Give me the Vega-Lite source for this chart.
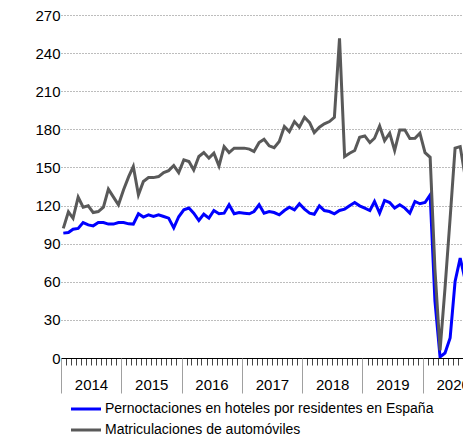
{
  "$schema": "https://vega.github.io/schema/vega-lite/v6.json",
  "autosize": {"type": "none"},
  "padding": {"left": 61, "top": 15, "right": 0, "bottom": 82},
  "width": 402,
  "height": 343,
  "config": {"font": "Liberation Sans", "view": {"stroke": null}},
  "data": {"values": [
    {"t": "2014-01-15", "p": 98.3, "m": 102},
    {"t": "2014-02-15", "p": 98.8, "m": 115},
    {"t": "2014-03-15", "p": 101.4, "m": 110},
    {"t": "2014-04-15", "p": 102, "m": 126.6},
    {"t": "2014-05-15", "p": 106.6, "m": 118.7},
    {"t": "2014-06-15", "p": 104.8, "m": 119.8},
    {"t": "2014-07-15", "p": 104, "m": 114.5},
    {"t": "2014-08-15", "p": 106.6, "m": 115.3},
    {"t": "2014-09-15", "p": 106.6, "m": 118.7},
    {"t": "2014-10-15", "p": 105.4, "m": 132.9},
    {"t": "2014-11-15", "p": 105.4, "m": 126.6},
    {"t": "2014-12-15", "p": 106.6, "m": 120.6},
    {"t": "2015-01-15", "p": 106.6, "m": 132.4},
    {"t": "2015-02-15", "p": 105.6, "m": 142.8},
    {"t": "2015-03-15", "p": 105.4, "m": 150.7},
    {"t": "2015-04-15", "p": 113.5, "m": 128.4},
    {"t": "2015-05-15", "p": 110.9, "m": 138.9},
    {"t": "2015-06-15", "p": 112.7, "m": 142},
    {"t": "2015-07-15", "p": 111.4, "m": 142},
    {"t": "2015-08-15", "p": 112.7, "m": 142.8},
    {"t": "2015-09-15", "p": 111.4, "m": 146},
    {"t": "2015-10-15", "p": 110.1, "m": 147.5},
    {"t": "2015-11-15", "p": 102.4, "m": 151.5},
    {"t": "2015-12-15", "p": 111.2, "m": 146},
    {"t": "2016-01-15", "p": 116.6, "m": 156},
    {"t": "2016-02-15", "p": 118, "m": 154.6},
    {"t": "2016-03-15", "p": 114, "m": 148},
    {"t": "2016-04-15", "p": 108.2, "m": 158.6},
    {"t": "2016-05-15", "p": 113.2, "m": 161.7},
    {"t": "2016-06-15", "p": 110.1, "m": 157.3},
    {"t": "2016-07-15", "p": 116.1, "m": 161.2},
    {"t": "2016-08-15", "p": 113.5, "m": 151.2},
    {"t": "2016-09-15", "p": 114, "m": 166.4},
    {"t": "2016-10-15", "p": 120.6, "m": 161.7},
    {"t": "2016-11-15", "p": 113.5, "m": 165.2},
    {"t": "2016-12-15", "p": 114.5, "m": 165.2},
    {"t": "2017-01-15", "p": 114, "m": 165.2},
    {"t": "2017-02-15", "p": 113.5, "m": 164.4},
    {"t": "2017-03-15", "p": 115.3, "m": 162.5},
    {"t": "2017-04-15", "p": 120.6, "m": 169.6},
    {"t": "2017-05-15", "p": 114, "m": 172.2},
    {"t": "2017-06-15", "p": 115.3, "m": 167},
    {"t": "2017-07-15", "p": 114.5, "m": 165.6},
    {"t": "2017-08-15", "p": 112.7, "m": 170.4},
    {"t": "2017-09-15", "p": 116.1, "m": 182.2},
    {"t": "2017-10-15", "p": 118.7, "m": 178.2},
    {"t": "2017-11-15", "p": 116.6, "m": 186.1},
    {"t": "2017-12-15", "p": 121.4, "m": 181.7},
    {"t": "2018-01-15", "p": 117.2, "m": 189.5},
    {"t": "2018-02-15", "p": 114, "m": 185.3},
    {"t": "2018-03-15", "p": 113.2, "m": 177.4},
    {"t": "2018-04-15", "p": 119.8, "m": 181.7},
    {"t": "2018-05-15", "p": 116.1, "m": 184.3},
    {"t": "2018-06-15", "p": 115.3, "m": 186.1},
    {"t": "2018-07-15", "p": 113.5, "m": 189.5},
    {"t": "2018-08-15", "p": 116.1, "m": 251.7},
    {"t": "2018-09-15", "p": 117.2, "m": 158.6},
    {"t": "2018-10-15", "p": 119.8, "m": 161.2},
    {"t": "2018-11-15", "p": 122.4, "m": 163.3},
    {"t": "2018-12-15", "p": 119.8, "m": 173.8},
    {"t": "2019-01-15", "p": 118, "m": 174.8},
    {"t": "2019-02-15", "p": 116.1, "m": 169.6},
    {"t": "2019-03-15", "p": 123.2, "m": 173},
    {"t": "2019-04-15", "p": 114, "m": 182.7},
    {"t": "2019-05-15", "p": 124, "m": 171.1},
    {"t": "2019-06-15", "p": 122.4, "m": 177},
    {"t": "2019-07-15", "p": 118, "m": 163.3},
    {"t": "2019-08-15", "p": 120.6, "m": 179.5},
    {"t": "2019-09-15", "p": 118, "m": 179.5},
    {"t": "2019-10-15", "p": 114, "m": 172.8},
    {"t": "2019-11-15", "p": 123.2, "m": 173},
    {"t": "2019-12-15", "p": 121.4, "m": 177},
    {"t": "2020-01-15", "p": 122.4, "m": 161.7},
    {"t": "2020-02-15", "p": 128.4, "m": 158},
    {"t": "2020-03-15", "p": 45, "m": 70},
    {"t": "2020-04-15", "p": 0.8, "m": 6},
    {"t": "2020-05-15", "p": 3.9, "m": 55},
    {"t": "2020-06-15", "p": 15.7, "m": 110},
    {"t": "2020-07-15", "p": 60.2, "m": 165.2},
    {"t": "2020-08-15", "p": 78.6, "m": 166.4},
    {"t": "2020-09-15", "p": 61, "m": 142}
  ]},
  "transform": [{"fold": ["p", "m"], "as": ["serie", "valor"]}],
  "layer": [
    {
      "mark": {"type": "line", "strokeWidth": 3, "clip": true},
      "encoding": {
        "x": {
          "field": "t", "type": "temporal",
          "scale": {"type": "utc", "domain": [{"year": 2014, "month": 1, "date": 1, "utc": true}, {"year": 2020, "month": 9, "date": 1, "utc": true}]},
          "axis": {"orient": "bottom", "title": null, "tickCount": {"interval": "month", "step": 1}, "labels": false, "tickSize": 7, "tickColor": "#444", "tickWidth": 1, "domainColor": "#000", "domainWidth": 1, "grid": false}
        },
        "y": {
          "field": "valor", "type": "quantitative",
          "scale": {"domain": [0, 270], "nice": false},
          "axis": {"title": null, "values": [0, 30, 60, 90, 120, 150, 180, 210, 240, 270], "ticks": false, "tickSize": 0, "domain": false, "labelPadding": 1, "labelFontSize": 15, "labelColor": "#000", "grid": true, "gridColor": "#7a7a7a", "gridDash": [1, 2], "gridWidth": 1}
        },
        "color": {
          "field": "serie", "type": "nominal",
          "scale": {"domain": ["p", "m"], "range": ["#0000ff", "#595959"]},
          "legend": {"title": null, "orient": "none", "legendX": 18, "legendY": 387, "direction": "vertical", "padding": 0, "symbolType": "M-3,0H3", "symbolSize": 100, "symbolStrokeWidth": 3, "labelFontSize": 14, "labelColor": "#000", "labelOffset": 12, "rowPadding": 7, "labelExpr": "datum.value == 'p' ? 'Pernoctaciones en hoteles por residentes en España' : 'Matriculaciones de automóviles'", "labelLimit": 500}
        }
      }
    },
    {
      "mark": {"type": "rule", "opacity": 0},
      "encoding": {
        "x": {
          "field": "t", "type": "temporal",
          "axis": {"orient": "bottom", "title": null, "tickCount": {"interval": "year", "step": 1}, "tickSize": 35, "tickColor": "#a0a0a0", "tickWidth": 1, "domain": false, "grid": false, "labelExpr": "utcFormat(datum.value, '%Y')", "labelOffset": 30, "labelPadding": -16, "labelFontSize": 15, "labelColor": "#000", "labelFlush": false, "labelOverlap": false, "labelBound": false}
        }
      }
    }
  ],
  "resolve": {"axis": {"x": "independent"}}
}
